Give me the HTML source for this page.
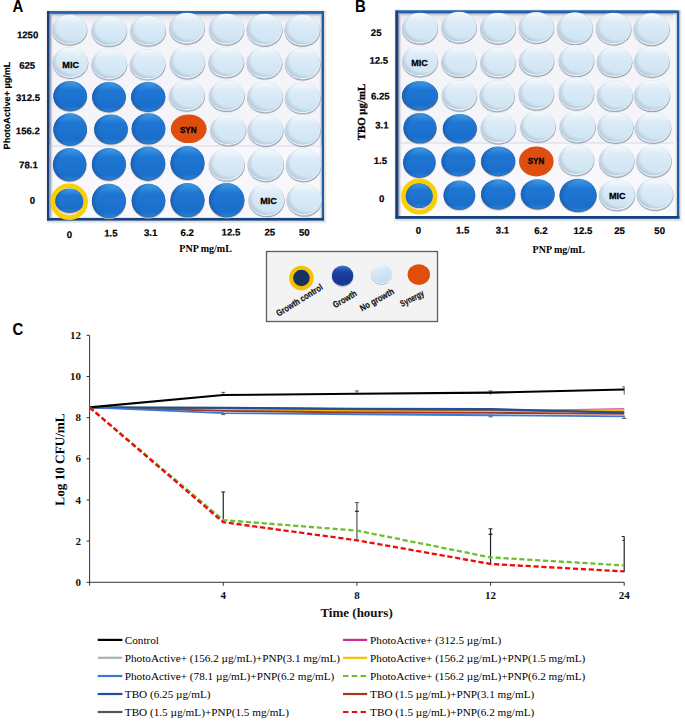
<!DOCTYPE html>
<html><head><meta charset="utf-8"><title>Figure</title>
<style>html,body{margin:0;padding:0;background:#fff;width:685px;height:722px;overflow:hidden}svg{display:block}</style>
</head><body>
<svg width="685" height="722" viewBox="0 0 685 722">
<defs>
<linearGradient id="gLight" x1="0" y1="0" x2="0" y2="1">
 <stop offset="0" stop-color="#f4fafd"/><stop offset="0.3" stop-color="#dcecf7"/><stop offset="1" stop-color="#cee3f2"/>
</linearGradient>
<radialGradient id="gBlue" cx="0.55" cy="0.45" r="0.58">
 <stop offset="0" stop-color="#1f74d0"/><stop offset="0.8" stop-color="#1c6cc8"/><stop offset="1" stop-color="#175fb6"/>
</radialGradient>
<linearGradient id="gBlueV" x1="0" y1="0" x2="0" y2="1">
 <stop offset="0" stop-color="#55b4f2"/><stop offset="0.1" stop-color="#3590e2"/><stop offset="0.3" stop-color="#1f76d2"/><stop offset="0.85" stop-color="#1b6fcc"/><stop offset="0.96" stop-color="#2580d8"/><stop offset="1" stop-color="#2f8ade"/>
</linearGradient>
<radialGradient id="gBlueEdge" cx="0.56" cy="0.52" r="0.56">
 <stop offset="0.75" stop-color="#0d4a9c" stop-opacity="0"/><stop offset="1" stop-color="#0d4a9c" stop-opacity="0.45"/>
</radialGradient>
<radialGradient id="gLightEdge" cx="0.6" cy="0.42" r="0.6">
 <stop offset="0.78" stop-color="#9db3c8" stop-opacity="0"/><stop offset="1" stop-color="#9db3c8" stop-opacity="0.5"/>
</radialGradient>
<radialGradient id="gBlueHi" cx="0.5" cy="0.2" r="0.7">
 <stop offset="0" stop-color="#4fb0f2" stop-opacity="0.7"/><stop offset="1" stop-color="#2a80d8" stop-opacity="0"/>
</radialGradient>
<linearGradient id="gPlate" x1="0" y1="0" x2="0" y2="1">
 <stop offset="0" stop-color="#c4c4cc"/><stop offset="0.015" stop-color="#e8e8f0"/><stop offset="0.05" stop-color="#f4f3f8"/><stop offset="1" stop-color="#f6f5fa"/>
</linearGradient>
<linearGradient id="gFrameTop" x1="0" y1="0" x2="0" y2="1">
 <stop offset="0" stop-color="#2a6fbd"/><stop offset="1" stop-color="#1a55a0"/>
</linearGradient>
<linearGradient id="gInL" x1="0" y1="0" x2="1" y2="0">
 <stop offset="0" stop-color="#5a6a88" stop-opacity="0.95"/><stop offset="0.45" stop-color="#a8aec0" stop-opacity="0.6"/><stop offset="1" stop-color="#f0f0f6" stop-opacity="0"/>
</linearGradient>
<linearGradient id="gInR" x1="1" y1="0" x2="0" y2="0">
 <stop offset="0" stop-color="#9aa0b0" stop-opacity="0.5"/><stop offset="1" stop-color="#f0f0f6" stop-opacity="0"/>
</linearGradient>
<linearGradient id="gInT" x1="0" y1="0" x2="0" y2="1">
 <stop offset="0" stop-color="#8890a0" stop-opacity="0.8"/><stop offset="1" stop-color="#e8e8f0" stop-opacity="0"/>
</linearGradient>
<linearGradient id="gLgBlue" x1="0" y1="0" x2="0" y2="1">
 <stop offset="0" stop-color="#5080d8"/><stop offset="0.12" stop-color="#2f5cbd"/><stop offset="0.35" stop-color="#1a40a0"/><stop offset="0.8" stop-color="#153591"/><stop offset="1" stop-color="#1c44a6"/>
</linearGradient>
<linearGradient id="gLgLight" x1="0.2" y1="0" x2="0.6" y2="1">
 <stop offset="0" stop-color="#f4fafd"/><stop offset="0.3" stop-color="#d8eaf6"/><stop offset="1" stop-color="#c2dbee"/>
</linearGradient>
</defs>
<rect width="685" height="722" fill="#fff"/>
<text transform="translate(12.4,11.7) scale(1,1.12)" font-family='"Liberation Sans", sans-serif' font-weight="bold" font-size="15" fill="#000">A</text>
<text transform="translate(355.1,11.9) scale(1,1.06)" font-family='"Liberation Sans", sans-serif' font-weight="bold" font-size="15" fill="#000">B</text>
<text transform="translate(12.5,334.6) scale(1,1.12)" font-family='"Liberation Sans", sans-serif' font-weight="bold" font-size="15" fill="#000">C</text>
<rect x="45.5" y="9.5" width="281" height="213.9" fill="#f2f2f2"/>
<rect x="47" y="11" width="278.5" height="211.4" fill="#dedede"/>
<rect x="47" y="11" width="277" height="209.4" fill="#1f5ca8"/>
<rect x="47" y="11" width="2.6" height="209.4" fill="#163f7c"/>
<rect x="47" y="217.6" width="277" height="2.8" fill="#16427f"/>
<rect x="49.5" y="11" width="272" height="2.8" fill="url(#gFrameTop)"/>
<rect x="49.5" y="13.8" width="272" height="203.9" fill="url(#gPlate)"/>
<rect x="49.5" y="146.5" width="272" height="71.20000000000002" fill="#f8f7fb"/>
<rect x="49.5" y="145.0" width="272" height="2" fill="#e8e7ef"/>
<rect x="49.5" y="13.8" width="4" height="203.9" fill="url(#gInL)"/>
<rect x="318.5" y="13.8" width="3" height="203.9" fill="url(#gInR)"/>
<rect x="49.5" y="13.8" width="272" height="2.5" fill="url(#gInT)"/>
<ellipse cx="69.5" cy="31.099999999999998" rx="18.0" ry="15.4" fill="#dcdce4" opacity="0.7"/>
<ellipse cx="69.7" cy="30.7" rx="17.599999999999998" ry="15.0" fill="#8f9cac"/>
<ellipse cx="69.5" cy="29.9" rx="17.4" ry="14.8" fill="#eef6fb" stroke="#b4c0cc" stroke-width="0.5"/>
<ellipse cx="69.5" cy="29.099999999999998" rx="17.099999999999998" ry="14.200000000000001" fill="url(#gLight)"/>
<ellipse cx="69.5" cy="29.099999999999998" rx="17.099999999999998" ry="14.200000000000001" fill="url(#gLightEdge)"/>
<ellipse cx="109.2" cy="32.300000000000004" rx="18.200000000000003" ry="15.6" fill="#dcdce4" opacity="0.7"/>
<ellipse cx="109.4" cy="31.900000000000002" rx="17.8" ry="15.2" fill="#8f9cac"/>
<ellipse cx="109.2" cy="31.1" rx="17.6" ry="15" fill="#eef6fb" stroke="#b4c0cc" stroke-width="0.5"/>
<ellipse cx="109.2" cy="30.3" rx="17.3" ry="14.4" fill="url(#gLight)"/>
<ellipse cx="109.2" cy="30.3" rx="17.3" ry="14.4" fill="url(#gLightEdge)"/>
<ellipse cx="148" cy="32.1" rx="18.200000000000003" ry="15.4" fill="#dcdce4" opacity="0.7"/>
<ellipse cx="148.2" cy="31.7" rx="17.8" ry="15.0" fill="#8f9cac"/>
<ellipse cx="148" cy="30.9" rx="17.6" ry="14.8" fill="#eef6fb" stroke="#b4c0cc" stroke-width="0.5"/>
<ellipse cx="148" cy="30.099999999999998" rx="17.3" ry="14.200000000000001" fill="url(#gLight)"/>
<ellipse cx="148" cy="30.099999999999998" rx="17.3" ry="14.200000000000001" fill="url(#gLightEdge)"/>
<ellipse cx="186.9" cy="29.599999999999998" rx="18.1" ry="15.9" fill="#dcdce4" opacity="0.7"/>
<ellipse cx="187.1" cy="29.2" rx="17.7" ry="15.5" fill="#8f9cac"/>
<ellipse cx="186.9" cy="28.4" rx="17.5" ry="15.3" fill="#eef6fb" stroke="#b4c0cc" stroke-width="0.5"/>
<ellipse cx="186.9" cy="27.599999999999998" rx="17.2" ry="14.700000000000001" fill="url(#gLight)"/>
<ellipse cx="186.9" cy="27.599999999999998" rx="17.2" ry="14.700000000000001" fill="url(#gLightEdge)"/>
<ellipse cx="226.5" cy="30.599999999999998" rx="18.0" ry="15.9" fill="#dcdce4" opacity="0.7"/>
<ellipse cx="226.7" cy="30.2" rx="17.599999999999998" ry="15.5" fill="#8f9cac"/>
<ellipse cx="226.5" cy="29.4" rx="17.4" ry="15.3" fill="#eef6fb" stroke="#b4c0cc" stroke-width="0.5"/>
<ellipse cx="226.5" cy="28.599999999999998" rx="17.099999999999998" ry="14.700000000000001" fill="url(#gLight)"/>
<ellipse cx="226.5" cy="28.599999999999998" rx="17.099999999999998" ry="14.700000000000001" fill="url(#gLightEdge)"/>
<ellipse cx="264.4" cy="31.099999999999998" rx="18.3" ry="16.400000000000002" fill="#dcdce4" opacity="0.7"/>
<ellipse cx="264.59999999999997" cy="30.7" rx="17.9" ry="16.0" fill="#8f9cac"/>
<ellipse cx="264.4" cy="29.9" rx="17.7" ry="15.8" fill="#eef6fb" stroke="#b4c0cc" stroke-width="0.5"/>
<ellipse cx="264.4" cy="29.099999999999998" rx="17.4" ry="15.200000000000001" fill="url(#gLight)"/>
<ellipse cx="264.4" cy="29.099999999999998" rx="17.4" ry="15.200000000000001" fill="url(#gLightEdge)"/>
<ellipse cx="302.3" cy="31.599999999999998" rx="18.200000000000003" ry="15.9" fill="#dcdce4" opacity="0.7"/>
<ellipse cx="302.5" cy="31.2" rx="17.8" ry="15.5" fill="#8f9cac"/>
<ellipse cx="302.3" cy="30.4" rx="17.6" ry="15.3" fill="#eef6fb" stroke="#b4c0cc" stroke-width="0.5"/>
<ellipse cx="302.3" cy="29.599999999999998" rx="17.3" ry="14.700000000000001" fill="url(#gLight)"/>
<ellipse cx="302.3" cy="29.599999999999998" rx="17.3" ry="14.700000000000001" fill="url(#gLightEdge)"/>
<ellipse cx="70.3" cy="64.1" rx="18.200000000000003" ry="15.7" fill="#dcdce4" opacity="0.7"/>
<ellipse cx="70.5" cy="63.699999999999996" rx="17.8" ry="15.299999999999999" fill="#8f9cac"/>
<ellipse cx="70.3" cy="62.9" rx="17.6" ry="15.1" fill="#eef6fb" stroke="#b4c0cc" stroke-width="0.5"/>
<ellipse cx="70.3" cy="62.1" rx="17.3" ry="14.5" fill="url(#gLight)"/>
<ellipse cx="70.3" cy="62.1" rx="17.3" ry="14.5" fill="url(#gLightEdge)"/>
<text x="70.65" y="67.7" text-anchor="middle" textLength="16.7" lengthAdjust="spacingAndGlyphs" font-family='"Liberation Sans", sans-serif' font-weight="bold" font-size="9.7" fill="#000" stroke="#000" stroke-width="0.3">MIC</text>
<ellipse cx="109.2" cy="65.7" rx="18.200000000000003" ry="15.6" fill="#dcdce4" opacity="0.7"/>
<ellipse cx="109.4" cy="65.3" rx="17.8" ry="15.2" fill="#8f9cac"/>
<ellipse cx="109.2" cy="64.5" rx="17.6" ry="15" fill="#eef6fb" stroke="#b4c0cc" stroke-width="0.5"/>
<ellipse cx="109.2" cy="63.7" rx="17.3" ry="14.4" fill="url(#gLight)"/>
<ellipse cx="109.2" cy="63.7" rx="17.3" ry="14.4" fill="url(#gLightEdge)"/>
<ellipse cx="147.5" cy="65.8" rx="18.200000000000003" ry="15.5" fill="#dcdce4" opacity="0.7"/>
<ellipse cx="147.7" cy="65.39999999999999" rx="17.8" ry="15.1" fill="#8f9cac"/>
<ellipse cx="147.5" cy="64.6" rx="17.6" ry="14.9" fill="#eef6fb" stroke="#b4c0cc" stroke-width="0.5"/>
<ellipse cx="147.5" cy="63.8" rx="17.3" ry="14.3" fill="url(#gLight)"/>
<ellipse cx="147.5" cy="63.8" rx="17.3" ry="14.3" fill="url(#gLightEdge)"/>
<ellipse cx="187.3" cy="63.800000000000004" rx="18.0" ry="16.400000000000002" fill="#dcdce4" opacity="0.7"/>
<ellipse cx="187.5" cy="63.4" rx="17.599999999999998" ry="16.0" fill="#8f9cac"/>
<ellipse cx="187.3" cy="62.6" rx="17.4" ry="15.8" fill="#eef6fb" stroke="#b4c0cc" stroke-width="0.5"/>
<ellipse cx="187.3" cy="61.800000000000004" rx="17.099999999999998" ry="15.200000000000001" fill="url(#gLight)"/>
<ellipse cx="187.3" cy="61.800000000000004" rx="17.099999999999998" ry="15.200000000000001" fill="url(#gLightEdge)"/>
<ellipse cx="226.2" cy="63.800000000000004" rx="18.200000000000003" ry="15.4" fill="#dcdce4" opacity="0.7"/>
<ellipse cx="226.39999999999998" cy="63.4" rx="17.8" ry="15.0" fill="#8f9cac"/>
<ellipse cx="226.2" cy="62.6" rx="17.6" ry="14.8" fill="#eef6fb" stroke="#b4c0cc" stroke-width="0.5"/>
<ellipse cx="226.2" cy="61.800000000000004" rx="17.3" ry="14.200000000000001" fill="url(#gLight)"/>
<ellipse cx="226.2" cy="61.800000000000004" rx="17.3" ry="14.200000000000001" fill="url(#gLightEdge)"/>
<ellipse cx="264.4" cy="64.3" rx="18.200000000000003" ry="15.9" fill="#dcdce4" opacity="0.7"/>
<ellipse cx="264.59999999999997" cy="63.9" rx="17.8" ry="15.5" fill="#8f9cac"/>
<ellipse cx="264.4" cy="63.1" rx="17.6" ry="15.3" fill="#eef6fb" stroke="#b4c0cc" stroke-width="0.5"/>
<ellipse cx="264.4" cy="62.300000000000004" rx="17.3" ry="14.700000000000001" fill="url(#gLight)"/>
<ellipse cx="264.4" cy="62.300000000000004" rx="17.3" ry="14.700000000000001" fill="url(#gLightEdge)"/>
<ellipse cx="302.7" cy="65.3" rx="18.200000000000003" ry="15.9" fill="#dcdce4" opacity="0.7"/>
<ellipse cx="302.9" cy="64.89999999999999" rx="17.8" ry="15.5" fill="#8f9cac"/>
<ellipse cx="302.7" cy="64.1" rx="17.6" ry="15.3" fill="#eef6fb" stroke="#b4c0cc" stroke-width="0.5"/>
<ellipse cx="302.7" cy="63.3" rx="17.3" ry="14.700000000000001" fill="url(#gLight)"/>
<ellipse cx="302.7" cy="63.3" rx="17.3" ry="14.700000000000001" fill="url(#gLightEdge)"/>
<ellipse cx="70.2" cy="97.10000000000001" rx="17.2" ry="15.3" fill="#c8c8d0" opacity="0.8"/>
<ellipse cx="70.2" cy="96.5" rx="16.8" ry="14.9" fill="#5a6270"/>
<ellipse cx="70.2" cy="95.9" rx="16.7" ry="14.8" fill="url(#gBlueV)"/>
<ellipse cx="70.2" cy="95.9" rx="16.7" ry="14.8" fill="url(#gBlueEdge)"/>
<ellipse cx="109" cy="98.10000000000001" rx="17.2" ry="15.3" fill="#c8c8d0" opacity="0.8"/>
<ellipse cx="109" cy="97.5" rx="16.8" ry="14.9" fill="#5a6270"/>
<ellipse cx="109" cy="96.9" rx="16.7" ry="14.8" fill="url(#gBlueV)"/>
<ellipse cx="109" cy="96.9" rx="16.7" ry="14.8" fill="url(#gBlueEdge)"/>
<ellipse cx="148.2" cy="97.9" rx="17.5" ry="15.1" fill="#c8c8d0" opacity="0.8"/>
<ellipse cx="148.2" cy="97.3" rx="17.1" ry="14.7" fill="#5a6270"/>
<ellipse cx="148.2" cy="96.7" rx="17" ry="14.6" fill="url(#gBlueV)"/>
<ellipse cx="148.2" cy="96.7" rx="17" ry="14.6" fill="url(#gBlueEdge)"/>
<ellipse cx="186.8" cy="97.10000000000001" rx="18.200000000000003" ry="15.4" fill="#dcdce4" opacity="0.7"/>
<ellipse cx="187.0" cy="96.7" rx="17.8" ry="15.0" fill="#8f9cac"/>
<ellipse cx="186.8" cy="95.9" rx="17.6" ry="14.8" fill="#eef6fb" stroke="#b4c0cc" stroke-width="0.5"/>
<ellipse cx="186.8" cy="95.10000000000001" rx="17.3" ry="14.200000000000001" fill="url(#gLight)"/>
<ellipse cx="186.8" cy="95.10000000000001" rx="17.3" ry="14.200000000000001" fill="url(#gLightEdge)"/>
<ellipse cx="226.7" cy="97.3" rx="18.200000000000003" ry="15.6" fill="#dcdce4" opacity="0.7"/>
<ellipse cx="226.89999999999998" cy="96.89999999999999" rx="17.8" ry="15.2" fill="#8f9cac"/>
<ellipse cx="226.7" cy="96.1" rx="17.6" ry="15" fill="#eef6fb" stroke="#b4c0cc" stroke-width="0.5"/>
<ellipse cx="226.7" cy="95.3" rx="17.3" ry="14.4" fill="url(#gLight)"/>
<ellipse cx="226.7" cy="95.3" rx="17.3" ry="14.4" fill="url(#gLightEdge)"/>
<ellipse cx="265" cy="98.4" rx="18.3" ry="15.7" fill="#dcdce4" opacity="0.7"/>
<ellipse cx="265.2" cy="98.0" rx="17.9" ry="15.299999999999999" fill="#8f9cac"/>
<ellipse cx="265" cy="97.2" rx="17.7" ry="15.1" fill="#eef6fb" stroke="#b4c0cc" stroke-width="0.5"/>
<ellipse cx="265" cy="96.4" rx="17.4" ry="14.5" fill="url(#gLight)"/>
<ellipse cx="265" cy="96.4" rx="17.4" ry="14.5" fill="url(#gLightEdge)"/>
<ellipse cx="302.7" cy="99.4" rx="18.200000000000003" ry="15.7" fill="#dcdce4" opacity="0.7"/>
<ellipse cx="302.9" cy="99.0" rx="17.8" ry="15.299999999999999" fill="#8f9cac"/>
<ellipse cx="302.7" cy="98.2" rx="17.6" ry="15.1" fill="#eef6fb" stroke="#b4c0cc" stroke-width="0.5"/>
<ellipse cx="302.7" cy="97.4" rx="17.3" ry="14.5" fill="url(#gLight)"/>
<ellipse cx="302.7" cy="97.4" rx="17.3" ry="14.5" fill="url(#gLightEdge)"/>
<ellipse cx="70.2" cy="130.5" rx="17.2" ry="16.6" fill="#c8c8d0" opacity="0.8"/>
<ellipse cx="70.2" cy="129.9" rx="16.8" ry="16.200000000000003" fill="#5a6270"/>
<ellipse cx="70.2" cy="129.3" rx="16.7" ry="16.1" fill="url(#gBlueV)"/>
<ellipse cx="70.2" cy="129.3" rx="16.7" ry="16.1" fill="url(#gBlueEdge)"/>
<ellipse cx="111" cy="130.29999999999998" rx="17.2" ry="15.2" fill="#c8c8d0" opacity="0.8"/>
<ellipse cx="111" cy="129.7" rx="16.8" ry="14.799999999999999" fill="#5a6270"/>
<ellipse cx="111" cy="129.1" rx="16.7" ry="14.7" fill="url(#gBlueV)"/>
<ellipse cx="111" cy="129.1" rx="16.7" ry="14.7" fill="url(#gBlueEdge)"/>
<ellipse cx="148.5" cy="129.7" rx="17.2" ry="15.8" fill="#c8c8d0" opacity="0.8"/>
<ellipse cx="148.5" cy="129.1" rx="16.8" ry="15.4" fill="#5a6270"/>
<ellipse cx="148.5" cy="128.5" rx="16.7" ry="15.3" fill="url(#gBlueV)"/>
<ellipse cx="148.5" cy="128.5" rx="16.7" ry="15.3" fill="url(#gBlueEdge)"/>
<ellipse cx="188.7" cy="128.8" rx="17.9" ry="14.3" fill="#dd4e0f"/>
<text x="188.25" y="132.64999999999998" text-anchor="middle" textLength="16.5" lengthAdjust="spacingAndGlyphs" font-family='"Liberation Sans", sans-serif' font-weight="bold" font-size="9.7" fill="#000" stroke="#000" stroke-width="0.3">SYN</text>
<ellipse cx="228.2" cy="131.29999999999998" rx="18.3" ry="15.9" fill="#dcdce4" opacity="0.7"/>
<ellipse cx="228.39999999999998" cy="130.9" rx="17.9" ry="15.5" fill="#8f9cac"/>
<ellipse cx="228.2" cy="130.1" rx="17.7" ry="15.3" fill="#eef6fb" stroke="#b4c0cc" stroke-width="0.5"/>
<ellipse cx="228.2" cy="129.29999999999998" rx="17.4" ry="14.700000000000001" fill="url(#gLight)"/>
<ellipse cx="228.2" cy="129.29999999999998" rx="17.4" ry="14.700000000000001" fill="url(#gLightEdge)"/>
<ellipse cx="265.5" cy="131.6" rx="18.200000000000003" ry="16.1" fill="#dcdce4" opacity="0.7"/>
<ellipse cx="265.7" cy="131.20000000000002" rx="17.8" ry="15.7" fill="#8f9cac"/>
<ellipse cx="265.5" cy="130.4" rx="17.6" ry="15.5" fill="#eef6fb" stroke="#b4c0cc" stroke-width="0.5"/>
<ellipse cx="265.5" cy="129.6" rx="17.3" ry="14.9" fill="url(#gLight)"/>
<ellipse cx="265.5" cy="129.6" rx="17.3" ry="14.9" fill="url(#gLightEdge)"/>
<ellipse cx="302.7" cy="131.79999999999998" rx="18.200000000000003" ry="15.9" fill="#dcdce4" opacity="0.7"/>
<ellipse cx="302.9" cy="131.4" rx="17.8" ry="15.5" fill="#8f9cac"/>
<ellipse cx="302.7" cy="130.6" rx="17.6" ry="15.3" fill="#eef6fb" stroke="#b4c0cc" stroke-width="0.5"/>
<ellipse cx="302.7" cy="129.79999999999998" rx="17.3" ry="14.700000000000001" fill="url(#gLight)"/>
<ellipse cx="302.7" cy="129.79999999999998" rx="17.3" ry="14.700000000000001" fill="url(#gLightEdge)"/>
<ellipse cx="69.7" cy="165.6" rx="17.1" ry="16.9" fill="#c8c8d0" opacity="0.8"/>
<ellipse cx="69.7" cy="165.0" rx="16.700000000000003" ry="16.5" fill="#5a6270"/>
<ellipse cx="69.7" cy="164.4" rx="16.6" ry="16.4" fill="url(#gBlueV)"/>
<ellipse cx="69.7" cy="164.4" rx="16.6" ry="16.4" fill="url(#gBlueEdge)"/>
<ellipse cx="108.9" cy="165.29999999999998" rx="17.4" ry="16.5" fill="#c8c8d0" opacity="0.8"/>
<ellipse cx="108.9" cy="164.7" rx="17.0" ry="16.1" fill="#5a6270"/>
<ellipse cx="108.9" cy="164.1" rx="16.9" ry="16" fill="url(#gBlueV)"/>
<ellipse cx="108.9" cy="164.1" rx="16.9" ry="16" fill="url(#gBlueEdge)"/>
<ellipse cx="148" cy="164.6" rx="17.7" ry="17.3" fill="#c8c8d0" opacity="0.8"/>
<ellipse cx="148" cy="164.0" rx="17.3" ry="16.900000000000002" fill="#5a6270"/>
<ellipse cx="148" cy="163.4" rx="17.2" ry="16.8" fill="url(#gBlueV)"/>
<ellipse cx="148" cy="163.4" rx="17.2" ry="16.8" fill="url(#gBlueEdge)"/>
<ellipse cx="187.5" cy="163.89999999999998" rx="17.4" ry="17.1" fill="#c8c8d0" opacity="0.8"/>
<ellipse cx="187.5" cy="163.29999999999998" rx="17.0" ry="16.700000000000003" fill="#5a6270"/>
<ellipse cx="187.5" cy="162.7" rx="16.9" ry="16.6" fill="url(#gBlueV)"/>
<ellipse cx="187.5" cy="162.7" rx="16.9" ry="16.6" fill="url(#gBlueEdge)"/>
<ellipse cx="226.7" cy="166.2" rx="18.200000000000003" ry="16.400000000000002" fill="#dcdce4" opacity="0.7"/>
<ellipse cx="226.89999999999998" cy="165.8" rx="17.8" ry="16.0" fill="#8f9cac"/>
<ellipse cx="226.7" cy="165" rx="17.6" ry="15.8" fill="#eef6fb" stroke="#b4c0cc" stroke-width="0.5"/>
<ellipse cx="226.7" cy="164.2" rx="17.3" ry="15.200000000000001" fill="url(#gLight)"/>
<ellipse cx="226.7" cy="164.2" rx="17.3" ry="15.200000000000001" fill="url(#gLightEdge)"/>
<ellipse cx="265.7" cy="166.2" rx="18.400000000000002" ry="16.900000000000002" fill="#dcdce4" opacity="0.7"/>
<ellipse cx="265.9" cy="165.8" rx="18.0" ry="16.5" fill="#8f9cac"/>
<ellipse cx="265.7" cy="165" rx="17.8" ry="16.3" fill="#eef6fb" stroke="#b4c0cc" stroke-width="0.5"/>
<ellipse cx="265.7" cy="164.2" rx="17.5" ry="15.700000000000001" fill="url(#gLight)"/>
<ellipse cx="265.7" cy="164.2" rx="17.5" ry="15.700000000000001" fill="url(#gLightEdge)"/>
<ellipse cx="303.6" cy="166.2" rx="18.0" ry="16.900000000000002" fill="#dcdce4" opacity="0.7"/>
<ellipse cx="303.8" cy="165.8" rx="17.599999999999998" ry="16.5" fill="#8f9cac"/>
<ellipse cx="303.6" cy="165" rx="17.4" ry="16.3" fill="#eef6fb" stroke="#b4c0cc" stroke-width="0.5"/>
<ellipse cx="303.6" cy="164.2" rx="17.099999999999998" ry="15.700000000000001" fill="url(#gLight)"/>
<ellipse cx="303.6" cy="164.2" rx="17.099999999999998" ry="15.700000000000001" fill="url(#gLightEdge)"/>
<ellipse cx="69.2" cy="201.7" rx="15.7" ry="15.3" fill="#e4e4ec"/>
<ellipse cx="69.7" cy="201.6" rx="15.1" ry="12.3" fill="#c8c8d0" opacity="0.8"/>
<ellipse cx="69.7" cy="201.0" rx="14.7" ry="11.9" fill="#5a6270"/>
<ellipse cx="69.7" cy="200.4" rx="14.6" ry="11.8" fill="url(#gBlueV)"/>
<ellipse cx="69.7" cy="200.4" rx="14.6" ry="11.8" fill="url(#gBlueEdge)"/>
<ellipse cx="69.2" cy="201.7" rx="16.4" ry="16.0" fill="none" stroke="#f8d000" stroke-width="4.6"/>
<ellipse cx="108.9" cy="201.89999999999998" rx="17.4" ry="17.4" fill="#c8c8d0" opacity="0.8"/>
<ellipse cx="108.9" cy="201.29999999999998" rx="17.0" ry="17.0" fill="#5a6270"/>
<ellipse cx="108.9" cy="200.7" rx="16.9" ry="16.9" fill="url(#gBlueV)"/>
<ellipse cx="108.9" cy="200.7" rx="16.9" ry="16.9" fill="url(#gBlueEdge)"/>
<ellipse cx="148.5" cy="201.6" rx="17.2" ry="17.1" fill="#c8c8d0" opacity="0.8"/>
<ellipse cx="148.5" cy="201.0" rx="16.8" ry="16.700000000000003" fill="#5a6270"/>
<ellipse cx="148.5" cy="200.4" rx="16.7" ry="16.6" fill="url(#gBlueV)"/>
<ellipse cx="148.5" cy="200.4" rx="16.7" ry="16.6" fill="url(#gBlueEdge)"/>
<ellipse cx="187.5" cy="201.1" rx="17.4" ry="17.5" fill="#c8c8d0" opacity="0.8"/>
<ellipse cx="187.5" cy="200.5" rx="17.0" ry="17.1" fill="#5a6270"/>
<ellipse cx="187.5" cy="199.9" rx="16.9" ry="17" fill="url(#gBlueV)"/>
<ellipse cx="187.5" cy="199.9" rx="16.9" ry="17" fill="url(#gBlueEdge)"/>
<ellipse cx="226.7" cy="201.1" rx="18.1" ry="17.5" fill="#c8c8d0" opacity="0.8"/>
<ellipse cx="226.7" cy="200.5" rx="17.700000000000003" ry="17.1" fill="#5a6270"/>
<ellipse cx="226.7" cy="199.9" rx="17.6" ry="17" fill="url(#gBlueV)"/>
<ellipse cx="226.7" cy="199.9" rx="17.6" ry="17" fill="url(#gBlueEdge)"/>
<ellipse cx="266.5" cy="201.39999999999998" rx="18.3" ry="16.6" fill="#dcdce4" opacity="0.7"/>
<ellipse cx="266.7" cy="201.0" rx="17.9" ry="16.2" fill="#8f9cac"/>
<ellipse cx="266.5" cy="200.2" rx="17.7" ry="16" fill="#eef6fb" stroke="#b4c0cc" stroke-width="0.5"/>
<ellipse cx="266.5" cy="199.39999999999998" rx="17.4" ry="15.4" fill="url(#gLight)"/>
<ellipse cx="266.5" cy="199.39999999999998" rx="17.4" ry="15.4" fill="url(#gLightEdge)"/>
<text x="268.6" y="203.89999999999998" text-anchor="middle" textLength="16.7" lengthAdjust="spacingAndGlyphs" font-family='"Liberation Sans", sans-serif' font-weight="bold" font-size="9.7" fill="#000" stroke="#000" stroke-width="0.3">MIC</text>
<ellipse cx="304.2" cy="201.1" rx="18.0" ry="16.3" fill="#dcdce4" opacity="0.7"/>
<ellipse cx="304.4" cy="200.70000000000002" rx="17.599999999999998" ry="15.899999999999999" fill="#8f9cac"/>
<ellipse cx="304.2" cy="199.9" rx="17.4" ry="15.7" fill="#eef6fb" stroke="#b4c0cc" stroke-width="0.5"/>
<ellipse cx="304.2" cy="199.1" rx="17.099999999999998" ry="15.1" fill="url(#gLight)"/>
<ellipse cx="304.2" cy="199.1" rx="17.099999999999998" ry="15.1" fill="url(#gLightEdge)"/>
<rect x="394.0" y="9.0" width="287.79999999999995" height="212.6" fill="#f2f2f2"/>
<rect x="395.5" y="10.5" width="285.29999999999995" height="210.1" fill="#dedede"/>
<rect x="395.5" y="10.5" width="283.79999999999995" height="208.1" fill="#1f5ca8"/>
<rect x="395.5" y="10.5" width="2.6" height="208.1" fill="#163f7c"/>
<rect x="395.5" y="215.79999999999998" width="283.79999999999995" height="2.8" fill="#16427f"/>
<rect x="398.0" y="10.5" width="278.79999999999995" height="2.8" fill="url(#gFrameTop)"/>
<rect x="398.0" y="13.3" width="278.79999999999995" height="202.6" fill="url(#gPlate)"/>
<rect x="398.0" y="143.5" width="278.79999999999995" height="72.4" fill="#f8f7fb"/>
<rect x="398.0" y="142.0" width="278.79999999999995" height="2" fill="#e8e7ef"/>
<rect x="398.0" y="211.0" width="278.79999999999995" height="4.9" fill="#fdfdfe"/>
<rect x="673.5" y="13.3" width="3.2" height="202.6" fill="#fbfbfd"/>
<rect x="398.0" y="13.3" width="4" height="202.6" fill="url(#gInL)"/>
<rect x="673.8" y="13.3" width="3" height="202.6" fill="url(#gInR)"/>
<rect x="398.0" y="13.3" width="278.79999999999995" height="2.5" fill="url(#gInT)"/>
<ellipse cx="419.9" cy="29.599999999999998" rx="18.3" ry="15.9" fill="#dcdce4" opacity="0.7"/>
<ellipse cx="420.09999999999997" cy="29.2" rx="17.9" ry="15.5" fill="#8f9cac"/>
<ellipse cx="419.9" cy="28.4" rx="17.7" ry="15.3" fill="#eef6fb" stroke="#b4c0cc" stroke-width="0.5"/>
<ellipse cx="419.9" cy="27.599999999999998" rx="17.4" ry="14.700000000000001" fill="url(#gLight)"/>
<ellipse cx="419.9" cy="27.599999999999998" rx="17.4" ry="14.700000000000001" fill="url(#gLightEdge)"/>
<ellipse cx="459" cy="28.599999999999998" rx="18.0" ry="15.9" fill="#dcdce4" opacity="0.7"/>
<ellipse cx="459.2" cy="28.2" rx="17.599999999999998" ry="15.5" fill="#8f9cac"/>
<ellipse cx="459" cy="27.4" rx="17.4" ry="15.3" fill="#eef6fb" stroke="#b4c0cc" stroke-width="0.5"/>
<ellipse cx="459" cy="26.599999999999998" rx="17.099999999999998" ry="14.700000000000001" fill="url(#gLight)"/>
<ellipse cx="459" cy="26.599999999999998" rx="17.099999999999998" ry="14.700000000000001" fill="url(#gLightEdge)"/>
<ellipse cx="498" cy="29.599999999999998" rx="18.200000000000003" ry="15.9" fill="#dcdce4" opacity="0.7"/>
<ellipse cx="498.2" cy="29.2" rx="17.8" ry="15.5" fill="#8f9cac"/>
<ellipse cx="498" cy="28.4" rx="17.6" ry="15.3" fill="#eef6fb" stroke="#b4c0cc" stroke-width="0.5"/>
<ellipse cx="498" cy="27.599999999999998" rx="17.3" ry="14.700000000000001" fill="url(#gLight)"/>
<ellipse cx="498" cy="27.599999999999998" rx="17.3" ry="14.700000000000001" fill="url(#gLightEdge)"/>
<ellipse cx="536.3" cy="28.9" rx="18.1" ry="15.9" fill="#dcdce4" opacity="0.7"/>
<ellipse cx="536.5" cy="28.5" rx="17.7" ry="15.5" fill="#8f9cac"/>
<ellipse cx="536.3" cy="27.7" rx="17.5" ry="15.3" fill="#eef6fb" stroke="#b4c0cc" stroke-width="0.5"/>
<ellipse cx="536.3" cy="26.9" rx="17.2" ry="14.700000000000001" fill="url(#gLight)"/>
<ellipse cx="536.3" cy="26.9" rx="17.2" ry="14.700000000000001" fill="url(#gLightEdge)"/>
<ellipse cx="574.9" cy="29.7" rx="18.3" ry="16.3" fill="#dcdce4" opacity="0.7"/>
<ellipse cx="575.1" cy="29.3" rx="17.9" ry="15.899999999999999" fill="#8f9cac"/>
<ellipse cx="574.9" cy="28.5" rx="17.7" ry="15.7" fill="#eef6fb" stroke="#b4c0cc" stroke-width="0.5"/>
<ellipse cx="574.9" cy="27.7" rx="17.4" ry="15.1" fill="url(#gLight)"/>
<ellipse cx="574.9" cy="27.7" rx="17.4" ry="15.1" fill="url(#gLightEdge)"/>
<ellipse cx="613.6" cy="30.0" rx="18.1" ry="16.3" fill="#dcdce4" opacity="0.7"/>
<ellipse cx="613.8000000000001" cy="29.6" rx="17.7" ry="15.899999999999999" fill="#8f9cac"/>
<ellipse cx="613.6" cy="28.8" rx="17.5" ry="15.7" fill="#eef6fb" stroke="#b4c0cc" stroke-width="0.5"/>
<ellipse cx="613.6" cy="28.0" rx="17.2" ry="15.1" fill="url(#gLight)"/>
<ellipse cx="613.6" cy="28.0" rx="17.2" ry="15.1" fill="url(#gLightEdge)"/>
<ellipse cx="651.5" cy="30.599999999999998" rx="18.3" ry="16.400000000000002" fill="#dcdce4" opacity="0.7"/>
<ellipse cx="651.7" cy="30.2" rx="17.9" ry="16.0" fill="#8f9cac"/>
<ellipse cx="651.5" cy="29.4" rx="17.7" ry="15.8" fill="#eef6fb" stroke="#b4c0cc" stroke-width="0.5"/>
<ellipse cx="651.5" cy="28.599999999999998" rx="17.4" ry="15.200000000000001" fill="url(#gLight)"/>
<ellipse cx="651.5" cy="28.599999999999998" rx="17.4" ry="15.200000000000001" fill="url(#gLightEdge)"/>
<ellipse cx="419.9" cy="62.7" rx="18.3" ry="15.6" fill="#dcdce4" opacity="0.7"/>
<ellipse cx="420.09999999999997" cy="62.3" rx="17.9" ry="15.2" fill="#8f9cac"/>
<ellipse cx="419.9" cy="61.5" rx="17.7" ry="15" fill="#eef6fb" stroke="#b4c0cc" stroke-width="0.5"/>
<ellipse cx="419.9" cy="60.7" rx="17.4" ry="14.4" fill="url(#gLight)"/>
<ellipse cx="419.9" cy="60.7" rx="17.4" ry="14.4" fill="url(#gLightEdge)"/>
<text x="419.5" y="66.05" text-anchor="middle" textLength="16.7" lengthAdjust="spacingAndGlyphs" font-family='"Liberation Sans", sans-serif' font-weight="bold" font-size="9.7" fill="#000" stroke="#000" stroke-width="0.3">MIC</text>
<ellipse cx="459" cy="63.400000000000006" rx="18.0" ry="15.5" fill="#dcdce4" opacity="0.7"/>
<ellipse cx="459.2" cy="63.0" rx="17.599999999999998" ry="15.1" fill="#8f9cac"/>
<ellipse cx="459" cy="62.2" rx="17.4" ry="14.9" fill="#eef6fb" stroke="#b4c0cc" stroke-width="0.5"/>
<ellipse cx="459" cy="61.400000000000006" rx="17.099999999999998" ry="14.3" fill="url(#gLight)"/>
<ellipse cx="459" cy="61.400000000000006" rx="17.099999999999998" ry="14.3" fill="url(#gLightEdge)"/>
<ellipse cx="498" cy="63.900000000000006" rx="18.200000000000003" ry="15.5" fill="#dcdce4" opacity="0.7"/>
<ellipse cx="498.2" cy="63.5" rx="17.8" ry="15.1" fill="#8f9cac"/>
<ellipse cx="498" cy="62.7" rx="17.6" ry="14.9" fill="#eef6fb" stroke="#b4c0cc" stroke-width="0.5"/>
<ellipse cx="498" cy="61.900000000000006" rx="17.3" ry="14.3" fill="url(#gLight)"/>
<ellipse cx="498" cy="61.900000000000006" rx="17.3" ry="14.3" fill="url(#gLightEdge)"/>
<ellipse cx="536.5" cy="62.300000000000004" rx="18.1" ry="15.4" fill="#dcdce4" opacity="0.7"/>
<ellipse cx="536.7" cy="61.9" rx="17.7" ry="15.0" fill="#8f9cac"/>
<ellipse cx="536.5" cy="61.1" rx="17.5" ry="14.8" fill="#eef6fb" stroke="#b4c0cc" stroke-width="0.5"/>
<ellipse cx="536.5" cy="60.300000000000004" rx="17.2" ry="14.200000000000001" fill="url(#gLight)"/>
<ellipse cx="536.5" cy="60.300000000000004" rx="17.2" ry="14.200000000000001" fill="url(#gLightEdge)"/>
<ellipse cx="576.4" cy="62.0" rx="18.1" ry="16.1" fill="#dcdce4" opacity="0.7"/>
<ellipse cx="576.6" cy="61.599999999999994" rx="17.7" ry="15.7" fill="#8f9cac"/>
<ellipse cx="576.4" cy="60.8" rx="17.5" ry="15.5" fill="#eef6fb" stroke="#b4c0cc" stroke-width="0.5"/>
<ellipse cx="576.4" cy="60.0" rx="17.2" ry="14.9" fill="url(#gLight)"/>
<ellipse cx="576.4" cy="60.0" rx="17.2" ry="14.9" fill="url(#gLightEdge)"/>
<ellipse cx="614.5" cy="63.2" rx="18.1" ry="15.6" fill="#dcdce4" opacity="0.7"/>
<ellipse cx="614.7" cy="62.8" rx="17.7" ry="15.2" fill="#8f9cac"/>
<ellipse cx="614.5" cy="62" rx="17.5" ry="15" fill="#eef6fb" stroke="#b4c0cc" stroke-width="0.5"/>
<ellipse cx="614.5" cy="61.2" rx="17.2" ry="14.4" fill="url(#gLight)"/>
<ellipse cx="614.5" cy="61.2" rx="17.2" ry="14.4" fill="url(#gLightEdge)"/>
<ellipse cx="651.7" cy="63.2" rx="18.1" ry="15.6" fill="#dcdce4" opacity="0.7"/>
<ellipse cx="651.9000000000001" cy="62.8" rx="17.7" ry="15.2" fill="#8f9cac"/>
<ellipse cx="651.7" cy="62" rx="17.5" ry="15" fill="#eef6fb" stroke="#b4c0cc" stroke-width="0.5"/>
<ellipse cx="651.7" cy="61.2" rx="17.2" ry="14.4" fill="url(#gLight)"/>
<ellipse cx="651.7" cy="61.2" rx="17.2" ry="14.4" fill="url(#gLightEdge)"/>
<ellipse cx="420" cy="96.8" rx="18.4" ry="15.0" fill="#c8c8d0" opacity="0.8"/>
<ellipse cx="420" cy="96.19999999999999" rx="18.0" ry="14.6" fill="#5a6270"/>
<ellipse cx="420" cy="95.6" rx="17.9" ry="14.5" fill="url(#gBlueV)"/>
<ellipse cx="420" cy="95.6" rx="17.9" ry="14.5" fill="url(#gBlueEdge)"/>
<ellipse cx="459.4" cy="96.9" rx="18.0" ry="15.6" fill="#dcdce4" opacity="0.7"/>
<ellipse cx="459.59999999999997" cy="96.5" rx="17.599999999999998" ry="15.2" fill="#8f9cac"/>
<ellipse cx="459.4" cy="95.7" rx="17.4" ry="15" fill="#eef6fb" stroke="#b4c0cc" stroke-width="0.5"/>
<ellipse cx="459.4" cy="94.9" rx="17.099999999999998" ry="14.4" fill="url(#gLight)"/>
<ellipse cx="459.4" cy="94.9" rx="17.099999999999998" ry="14.4" fill="url(#gLightEdge)"/>
<ellipse cx="497.2" cy="97.2" rx="18.0" ry="15.9" fill="#dcdce4" opacity="0.7"/>
<ellipse cx="497.4" cy="96.8" rx="17.599999999999998" ry="15.5" fill="#8f9cac"/>
<ellipse cx="497.2" cy="96" rx="17.4" ry="15.3" fill="#eef6fb" stroke="#b4c0cc" stroke-width="0.5"/>
<ellipse cx="497.2" cy="95.2" rx="17.099999999999998" ry="14.700000000000001" fill="url(#gLight)"/>
<ellipse cx="497.2" cy="95.2" rx="17.099999999999998" ry="14.700000000000001" fill="url(#gLightEdge)"/>
<ellipse cx="536.3" cy="95.2" rx="18.1" ry="16.2" fill="#dcdce4" opacity="0.7"/>
<ellipse cx="536.5" cy="94.8" rx="17.7" ry="15.799999999999999" fill="#8f9cac"/>
<ellipse cx="536.3" cy="94" rx="17.5" ry="15.6" fill="#eef6fb" stroke="#b4c0cc" stroke-width="0.5"/>
<ellipse cx="536.3" cy="93.2" rx="17.2" ry="15.0" fill="url(#gLight)"/>
<ellipse cx="536.3" cy="93.2" rx="17.2" ry="15.0" fill="url(#gLightEdge)"/>
<ellipse cx="576.4" cy="94.8" rx="18.1" ry="16.6" fill="#dcdce4" opacity="0.7"/>
<ellipse cx="576.6" cy="94.39999999999999" rx="17.7" ry="16.2" fill="#8f9cac"/>
<ellipse cx="576.4" cy="93.6" rx="17.5" ry="16" fill="#eef6fb" stroke="#b4c0cc" stroke-width="0.5"/>
<ellipse cx="576.4" cy="92.8" rx="17.2" ry="15.4" fill="url(#gLight)"/>
<ellipse cx="576.4" cy="92.8" rx="17.2" ry="15.4" fill="url(#gLightEdge)"/>
<ellipse cx="614.8" cy="97.3" rx="18.400000000000002" ry="15.6" fill="#dcdce4" opacity="0.7"/>
<ellipse cx="615.0" cy="96.89999999999999" rx="18.0" ry="15.2" fill="#8f9cac"/>
<ellipse cx="614.8" cy="96.1" rx="17.8" ry="15" fill="#eef6fb" stroke="#b4c0cc" stroke-width="0.5"/>
<ellipse cx="614.8" cy="95.3" rx="17.5" ry="14.4" fill="url(#gLight)"/>
<ellipse cx="614.8" cy="95.3" rx="17.5" ry="14.4" fill="url(#gLightEdge)"/>
<ellipse cx="652" cy="97.0" rx="18.400000000000002" ry="15.9" fill="#dcdce4" opacity="0.7"/>
<ellipse cx="652.2" cy="96.6" rx="18.0" ry="15.5" fill="#8f9cac"/>
<ellipse cx="652" cy="95.8" rx="17.8" ry="15.3" fill="#eef6fb" stroke="#b4c0cc" stroke-width="0.5"/>
<ellipse cx="652" cy="95.0" rx="17.5" ry="14.700000000000001" fill="url(#gLight)"/>
<ellipse cx="652" cy="95.0" rx="17.5" ry="14.700000000000001" fill="url(#gLightEdge)"/>
<ellipse cx="420" cy="129.1" rx="16.9" ry="15.5" fill="#c8c8d0" opacity="0.8"/>
<ellipse cx="420" cy="128.5" rx="16.5" ry="15.1" fill="#5a6270"/>
<ellipse cx="420" cy="127.9" rx="16.4" ry="15" fill="url(#gBlueV)"/>
<ellipse cx="420" cy="127.9" rx="16.4" ry="15" fill="url(#gBlueEdge)"/>
<ellipse cx="459.8" cy="129.6" rx="17.4" ry="15.0" fill="#c8c8d0" opacity="0.8"/>
<ellipse cx="459.8" cy="129.0" rx="17.0" ry="14.6" fill="#5a6270"/>
<ellipse cx="459.8" cy="128.4" rx="16.9" ry="14.5" fill="url(#gBlueV)"/>
<ellipse cx="459.8" cy="128.4" rx="16.9" ry="14.5" fill="url(#gBlueEdge)"/>
<ellipse cx="498.2" cy="129.39999999999998" rx="18.0" ry="15.9" fill="#dcdce4" opacity="0.7"/>
<ellipse cx="498.4" cy="129.0" rx="17.599999999999998" ry="15.5" fill="#8f9cac"/>
<ellipse cx="498.2" cy="128.2" rx="17.4" ry="15.3" fill="#eef6fb" stroke="#b4c0cc" stroke-width="0.5"/>
<ellipse cx="498.2" cy="127.39999999999999" rx="17.099999999999998" ry="14.700000000000001" fill="url(#gLight)"/>
<ellipse cx="498.2" cy="127.39999999999999" rx="17.099999999999998" ry="14.700000000000001" fill="url(#gLightEdge)"/>
<ellipse cx="538" cy="128.0" rx="18.1" ry="15.6" fill="#dcdce4" opacity="0.7"/>
<ellipse cx="538.2" cy="127.6" rx="17.7" ry="15.2" fill="#8f9cac"/>
<ellipse cx="538" cy="126.8" rx="17.5" ry="15" fill="#eef6fb" stroke="#b4c0cc" stroke-width="0.5"/>
<ellipse cx="538" cy="126.0" rx="17.2" ry="14.4" fill="url(#gLight)"/>
<ellipse cx="538" cy="126.0" rx="17.2" ry="14.4" fill="url(#gLightEdge)"/>
<ellipse cx="577.6" cy="128.29999999999998" rx="18.400000000000002" ry="15.9" fill="#dcdce4" opacity="0.7"/>
<ellipse cx="577.8000000000001" cy="127.89999999999999" rx="18.0" ry="15.5" fill="#8f9cac"/>
<ellipse cx="577.6" cy="127.1" rx="17.8" ry="15.3" fill="#eef6fb" stroke="#b4c0cc" stroke-width="0.5"/>
<ellipse cx="577.6" cy="126.3" rx="17.5" ry="14.700000000000001" fill="url(#gLight)"/>
<ellipse cx="577.6" cy="126.3" rx="17.5" ry="14.700000000000001" fill="url(#gLightEdge)"/>
<ellipse cx="615.5" cy="129.0" rx="18.400000000000002" ry="15.7" fill="#dcdce4" opacity="0.7"/>
<ellipse cx="615.7" cy="128.6" rx="18.0" ry="15.299999999999999" fill="#8f9cac"/>
<ellipse cx="615.5" cy="127.8" rx="17.8" ry="15.1" fill="#eef6fb" stroke="#b4c0cc" stroke-width="0.5"/>
<ellipse cx="615.5" cy="127.0" rx="17.5" ry="14.5" fill="url(#gLight)"/>
<ellipse cx="615.5" cy="127.0" rx="17.5" ry="14.5" fill="url(#gLightEdge)"/>
<ellipse cx="652.9" cy="129.29999999999998" rx="18.6" ry="15.4" fill="#dcdce4" opacity="0.7"/>
<ellipse cx="653.1" cy="128.9" rx="18.2" ry="15.0" fill="#8f9cac"/>
<ellipse cx="652.9" cy="128.1" rx="18" ry="14.8" fill="#eef6fb" stroke="#b4c0cc" stroke-width="0.5"/>
<ellipse cx="652.9" cy="127.3" rx="17.7" ry="14.200000000000001" fill="url(#gLight)"/>
<ellipse cx="652.9" cy="127.3" rx="17.7" ry="14.200000000000001" fill="url(#gLightEdge)"/>
<ellipse cx="419.4" cy="163.39999999999998" rx="16.6" ry="15.5" fill="#c8c8d0" opacity="0.8"/>
<ellipse cx="419.4" cy="162.79999999999998" rx="16.200000000000003" ry="15.1" fill="#5a6270"/>
<ellipse cx="419.4" cy="162.2" rx="16.1" ry="15" fill="url(#gBlueV)"/>
<ellipse cx="419.4" cy="162.2" rx="16.1" ry="15" fill="url(#gBlueEdge)"/>
<ellipse cx="458.4" cy="162.29999999999998" rx="17.3" ry="15.1" fill="#c8c8d0" opacity="0.8"/>
<ellipse cx="458.4" cy="161.7" rx="16.900000000000002" ry="14.7" fill="#5a6270"/>
<ellipse cx="458.4" cy="161.1" rx="16.8" ry="14.6" fill="url(#gBlueV)"/>
<ellipse cx="458.4" cy="161.1" rx="16.8" ry="14.6" fill="url(#gBlueEdge)"/>
<ellipse cx="498.2" cy="162.29999999999998" rx="17.5" ry="15.1" fill="#c8c8d0" opacity="0.8"/>
<ellipse cx="498.2" cy="161.7" rx="17.1" ry="14.7" fill="#5a6270"/>
<ellipse cx="498.2" cy="161.1" rx="17" ry="14.6" fill="url(#gBlueV)"/>
<ellipse cx="498.2" cy="161.1" rx="17" ry="14.6" fill="url(#gBlueEdge)"/>
<ellipse cx="536.3" cy="161.4" rx="17.3" ry="15" fill="#dd4e0f"/>
<text x="535.95" y="163.54999999999998" text-anchor="middle" textLength="16.5" lengthAdjust="spacingAndGlyphs" font-family='"Liberation Sans", sans-serif' font-weight="bold" font-size="9.7" fill="#000" stroke="#000" stroke-width="0.3">SYN</text>
<ellipse cx="576.4" cy="161.2" rx="18.1" ry="15.9" fill="#dcdce4" opacity="0.7"/>
<ellipse cx="576.6" cy="160.8" rx="17.7" ry="15.5" fill="#8f9cac"/>
<ellipse cx="576.4" cy="160" rx="17.5" ry="15.3" fill="#eef6fb" stroke="#b4c0cc" stroke-width="0.5"/>
<ellipse cx="576.4" cy="159.2" rx="17.2" ry="14.700000000000001" fill="url(#gLight)"/>
<ellipse cx="576.4" cy="159.2" rx="17.2" ry="14.700000000000001" fill="url(#gLightEdge)"/>
<ellipse cx="616.6" cy="162.2" rx="18.1" ry="16.3" fill="#dcdce4" opacity="0.7"/>
<ellipse cx="616.8000000000001" cy="161.8" rx="17.7" ry="15.899999999999999" fill="#8f9cac"/>
<ellipse cx="616.6" cy="161" rx="17.5" ry="15.7" fill="#eef6fb" stroke="#b4c0cc" stroke-width="0.5"/>
<ellipse cx="616.6" cy="160.2" rx="17.2" ry="15.1" fill="url(#gLight)"/>
<ellipse cx="616.6" cy="160.2" rx="17.2" ry="15.1" fill="url(#gLightEdge)"/>
<ellipse cx="653.8" cy="162.2" rx="18.1" ry="16.3" fill="#dcdce4" opacity="0.7"/>
<ellipse cx="654.0" cy="161.8" rx="17.7" ry="15.899999999999999" fill="#8f9cac"/>
<ellipse cx="653.8" cy="161" rx="17.5" ry="15.7" fill="#eef6fb" stroke="#b4c0cc" stroke-width="0.5"/>
<ellipse cx="653.8" cy="160.2" rx="17.2" ry="15.1" fill="url(#gLight)"/>
<ellipse cx="653.8" cy="160.2" rx="17.2" ry="15.1" fill="url(#gLightEdge)"/>
<ellipse cx="419.3" cy="196.5" rx="15.2" ry="15.100000000000001" fill="#e4e4ec"/>
<ellipse cx="419.2" cy="196.39999999999998" rx="14.3" ry="12.7" fill="#c8c8d0" opacity="0.8"/>
<ellipse cx="419.2" cy="195.79999999999998" rx="13.9" ry="12.299999999999999" fill="#5a6270"/>
<ellipse cx="419.2" cy="195.2" rx="13.8" ry="12.2" fill="url(#gBlueV)"/>
<ellipse cx="419.2" cy="195.2" rx="13.8" ry="12.2" fill="url(#gBlueEdge)"/>
<ellipse cx="419.3" cy="196.5" rx="15.899999999999999" ry="15.8" fill="none" stroke="#f8d000" stroke-width="4.6"/>
<ellipse cx="459.4" cy="196.1" rx="16.2" ry="15.0" fill="#c8c8d0" opacity="0.8"/>
<ellipse cx="459.4" cy="195.5" rx="15.799999999999999" ry="14.6" fill="#5a6270"/>
<ellipse cx="459.4" cy="194.9" rx="15.7" ry="14.5" fill="url(#gBlueV)"/>
<ellipse cx="459.4" cy="194.9" rx="15.7" ry="14.5" fill="url(#gBlueEdge)"/>
<ellipse cx="498.2" cy="195.29999999999998" rx="17.5" ry="15.4" fill="#c8c8d0" opacity="0.8"/>
<ellipse cx="498.2" cy="194.7" rx="17.1" ry="15.0" fill="#5a6270"/>
<ellipse cx="498.2" cy="194.1" rx="17" ry="14.9" fill="url(#gBlueV)"/>
<ellipse cx="498.2" cy="194.1" rx="17" ry="14.9" fill="url(#gBlueEdge)"/>
<ellipse cx="537.7" cy="195.2" rx="17.3" ry="15.3" fill="#c8c8d0" opacity="0.8"/>
<ellipse cx="537.7" cy="194.6" rx="16.900000000000002" ry="14.9" fill="#5a6270"/>
<ellipse cx="537.7" cy="194" rx="16.8" ry="14.8" fill="url(#gBlueV)"/>
<ellipse cx="537.7" cy="194" rx="16.8" ry="14.8" fill="url(#gBlueEdge)"/>
<ellipse cx="578.1" cy="196.39999999999998" rx="18.9" ry="16.9" fill="#c8c8d0" opacity="0.8"/>
<ellipse cx="578.1" cy="195.79999999999998" rx="18.5" ry="16.5" fill="#5a6270"/>
<ellipse cx="578.1" cy="195.2" rx="18.4" ry="16.4" fill="url(#gBlueV)"/>
<ellipse cx="578.1" cy="195.2" rx="18.4" ry="16.4" fill="url(#gBlueEdge)"/>
<ellipse cx="617" cy="196.2" rx="18.400000000000002" ry="15.9" fill="#dcdce4" opacity="0.7"/>
<ellipse cx="617.2" cy="195.8" rx="18.0" ry="15.5" fill="#8f9cac"/>
<ellipse cx="617" cy="195" rx="17.8" ry="15.3" fill="#eef6fb" stroke="#b4c0cc" stroke-width="0.5"/>
<ellipse cx="617" cy="194.2" rx="17.5" ry="14.700000000000001" fill="url(#gLight)"/>
<ellipse cx="617" cy="194.2" rx="17.5" ry="14.700000000000001" fill="url(#gLightEdge)"/>
<text x="617.25" y="199.29999999999998" text-anchor="middle" textLength="16.7" lengthAdjust="spacingAndGlyphs" font-family='"Liberation Sans", sans-serif' font-weight="bold" font-size="9.7" fill="#000" stroke="#000" stroke-width="0.3">MIC</text>
<ellipse cx="655" cy="195.79999999999998" rx="18.6" ry="16.0" fill="#dcdce4" opacity="0.7"/>
<ellipse cx="655.2" cy="195.4" rx="18.2" ry="15.6" fill="#8f9cac"/>
<ellipse cx="655" cy="194.6" rx="18" ry="15.4" fill="#eef6fb" stroke="#b4c0cc" stroke-width="0.5"/>
<ellipse cx="655" cy="193.79999999999998" rx="17.7" ry="14.8" fill="url(#gLight)"/>
<ellipse cx="655" cy="193.79999999999998" rx="17.7" ry="14.8" fill="url(#gLightEdge)"/>
<text transform="translate(27.55,38.35) rotate(0.1) scale(1.0,1)" text-anchor="middle" font-family='"Liberation Sans", sans-serif' font-weight="bold" font-size="9.6" fill="#000" stroke="#000" stroke-width="0.2">1250</text>
<text transform="translate(27.2,68.85) rotate(0.1) scale(1.0,1)" text-anchor="middle" font-family='"Liberation Sans", sans-serif' font-weight="bold" font-size="9.6" fill="#000" stroke="#000" stroke-width="0.2">625</text>
<text transform="translate(28,101.0) rotate(0.1) scale(1.0,1)" text-anchor="middle" font-family='"Liberation Sans", sans-serif' font-weight="bold" font-size="9.6" fill="#000" stroke="#000" stroke-width="0.2">312.5</text>
<text transform="translate(27.85,134.2) rotate(0.1) scale(1.0,1)" text-anchor="middle" font-family='"Liberation Sans", sans-serif' font-weight="bold" font-size="9.6" fill="#000" stroke="#000" stroke-width="0.2">156.2</text>
<text transform="translate(28.45,168.35) rotate(0.1) scale(1.0,1)" text-anchor="middle" font-family='"Liberation Sans", sans-serif' font-weight="bold" font-size="9.6" fill="#000" stroke="#000" stroke-width="0.2">78.1</text>
<text transform="translate(32.3,203.75) rotate(0.1) scale(1.0,1)" text-anchor="middle" font-family='"Liberation Sans", sans-serif' font-weight="bold" font-size="9.6" fill="#000" stroke="#000" stroke-width="0.2">0</text>
<text transform="translate(69.3,238.0) rotate(0.1) scale(1.0,1)" text-anchor="middle" font-family='"Liberation Sans", sans-serif' font-weight="bold" font-size="9.6" fill="#000" stroke="#000" stroke-width="0.2">0</text>
<text transform="translate(110.9,236.5) rotate(0.1) scale(1.0,1)" text-anchor="middle" font-family='"Liberation Sans", sans-serif' font-weight="bold" font-size="9.6" fill="#000" stroke="#000" stroke-width="0.2">1.5</text>
<text transform="translate(150.65,236.1) rotate(0.1) scale(1.0,1)" text-anchor="middle" font-family='"Liberation Sans", sans-serif' font-weight="bold" font-size="9.6" fill="#000" stroke="#000" stroke-width="0.2">3.1</text>
<text transform="translate(187.25,235.9) rotate(0.1) scale(1.0,1)" text-anchor="middle" font-family='"Liberation Sans", sans-serif' font-weight="bold" font-size="9.6" fill="#000" stroke="#000" stroke-width="0.2">6.2</text>
<text transform="translate(230.9,235.5) rotate(0.1) scale(1.0,1)" text-anchor="middle" font-family='"Liberation Sans", sans-serif' font-weight="bold" font-size="9.6" fill="#000" stroke="#000" stroke-width="0.2">12.5</text>
<text transform="translate(269.8,235.5) rotate(0.1) scale(1.0,1)" text-anchor="middle" font-family='"Liberation Sans", sans-serif' font-weight="bold" font-size="9.6" fill="#000" stroke="#000" stroke-width="0.2">25</text>
<text transform="translate(304.35,235.7) rotate(0.1) scale(1.0,1)" text-anchor="middle" font-family='"Liberation Sans", sans-serif' font-weight="bold" font-size="9.6" fill="#000" stroke="#000" stroke-width="0.2">50</text>
<text x="205.6" y="252.2" text-anchor="middle" font-family='"Liberation Serif", serif' font-weight="bold" font-size="10" fill="#000" >PNP mg/mL</text>
<text transform="translate(10,105.5) rotate(-89.9)" text-anchor="middle" font-family='"Liberation Sans", sans-serif' font-weight="bold" font-size="9.1" fill="#000" stroke="#000" stroke-width="0.15">PhotoActive+ µg/mL</text>
<text transform="translate(376.2,35.9) rotate(0.1) scale(1.0,1)" text-anchor="middle" font-family='"Liberation Sans", sans-serif' font-weight="bold" font-size="9.6" fill="#000" stroke="#000" stroke-width="0.2">25</text>
<text transform="translate(378.75,63.65) rotate(0.1) scale(1.0,1)" text-anchor="middle" font-family='"Liberation Sans", sans-serif' font-weight="bold" font-size="9.6" fill="#000" stroke="#000" stroke-width="0.2">12.5</text>
<text transform="translate(380.3,99.55) rotate(0.1) scale(1.0,1)" text-anchor="middle" font-family='"Liberation Sans", sans-serif' font-weight="bold" font-size="9.6" fill="#000" stroke="#000" stroke-width="0.2">6.25</text>
<text transform="translate(381.85,128.4) rotate(0.1) scale(1.0,1)" text-anchor="middle" font-family='"Liberation Sans", sans-serif' font-weight="bold" font-size="9.6" fill="#000" stroke="#000" stroke-width="0.2">3.1</text>
<text transform="translate(380.3,164.0) rotate(0.1) scale(1.0,1)" text-anchor="middle" font-family='"Liberation Sans", sans-serif' font-weight="bold" font-size="9.6" fill="#000" stroke="#000" stroke-width="0.2">1.5</text>
<text transform="translate(381.55,201.9) rotate(0.1) scale(1.0,1)" text-anchor="middle" font-family='"Liberation Sans", sans-serif' font-weight="bold" font-size="9.6" fill="#000" stroke="#000" stroke-width="0.2">0</text>
<text transform="translate(418.5,233.7) rotate(0.1) scale(1.0,1)" text-anchor="middle" font-family='"Liberation Sans", sans-serif' font-weight="bold" font-size="9.6" fill="#000" stroke="#000" stroke-width="0.2">0</text>
<text transform="translate(462.7,233.5) rotate(0.1) scale(1.0,1)" text-anchor="middle" font-family='"Liberation Sans", sans-serif' font-weight="bold" font-size="9.6" fill="#000" stroke="#000" stroke-width="0.2">1.5</text>
<text transform="translate(502.5,233.6) rotate(0.1) scale(1.0,1)" text-anchor="middle" font-family='"Liberation Sans", sans-serif' font-weight="bold" font-size="9.6" fill="#000" stroke="#000" stroke-width="0.2">3.1</text>
<text transform="translate(540.9,234.1) rotate(0.1) scale(1.0,1)" text-anchor="middle" font-family='"Liberation Sans", sans-serif' font-weight="bold" font-size="9.6" fill="#000" stroke="#000" stroke-width="0.2">6.2</text>
<text transform="translate(582.9,234.0) rotate(0.1) scale(1.0,1)" text-anchor="middle" font-family='"Liberation Sans", sans-serif' font-weight="bold" font-size="9.6" fill="#000" stroke="#000" stroke-width="0.2">12.5</text>
<text transform="translate(619.6,234.0) rotate(0.1) scale(1.0,1)" text-anchor="middle" font-family='"Liberation Sans", sans-serif' font-weight="bold" font-size="9.6" fill="#000" stroke="#000" stroke-width="0.2">25</text>
<text transform="translate(659.7,234.0) rotate(0.1) scale(1.0,1)" text-anchor="middle" font-family='"Liberation Sans", sans-serif' font-weight="bold" font-size="9.6" fill="#000" stroke="#000" stroke-width="0.2">50</text>
<text x="558.8" y="252.6" text-anchor="middle" font-family='"Liberation Serif", serif' font-weight="bold" font-size="10" fill="#000" >PNP mg/mL</text>
<text transform="translate(365,112) rotate(-89.9)" text-anchor="middle" font-family='"Liberation Serif", serif' font-weight="bold" font-size="10.8" fill="#000" stroke="#000" stroke-width="0.3">TBO µg/mL</text>
<rect x="266.5" y="251.5" width="171" height="70" fill="#f3f3f3" stroke="#5e5e5e" stroke-width="1.3"/>
<circle cx="301.4" cy="278" r="10.3" fill="#17325f" stroke="#f5c000" stroke-width="4"/>
<ellipse cx="342.6" cy="276.8" rx="10.9" ry="10.4" fill="#b8b8c0" opacity="0.7"/>
<ellipse cx="342.6" cy="275.8" rx="10.7" ry="10.2" fill="url(#gLgBlue)"/>
<ellipse cx="381.5" cy="274.9" rx="10.6" ry="10.1" fill="#a8b4c0"/>
<ellipse cx="381.7" cy="274.3" rx="10.5" ry="10" fill="#f2f8fc"/>
<ellipse cx="381.7" cy="273.8" rx="10.2" ry="9.5" fill="url(#gLgLight)"/>
<ellipse cx="418.8" cy="274.6" rx="11.2" ry="10.3" fill="#e04e0c"/>
<text transform="translate(278.6,316.8) rotate(-32)" textLength="53" lengthAdjust="spacingAndGlyphs" font-family='"Liberation Sans", sans-serif' font-weight="bold" font-size="9" fill="#111" stroke="#111" stroke-width="0.2">Growth control</text>
<text transform="translate(335,308.3) rotate(-30)" textLength="26" lengthAdjust="spacingAndGlyphs" font-family='"Liberation Sans", sans-serif' font-weight="bold" font-size="9" fill="#111" stroke="#111" stroke-width="0.2">Growth</text>
<text transform="translate(362,311.5) rotate(-29)" textLength="37.5" lengthAdjust="spacingAndGlyphs" font-family='"Liberation Sans", sans-serif' font-weight="bold" font-size="9" fill="#111" stroke="#111" stroke-width="0.2">No growth</text>
<text transform="translate(402.1,306.9) rotate(-27)" textLength="25.5" lengthAdjust="spacingAndGlyphs" font-family='"Liberation Sans", sans-serif' font-weight="bold" font-size="9" fill="#111" stroke="#111" stroke-width="0.2">Synergy</text>
<line x1="89.6" y1="335.3" x2="89.6" y2="582.3" stroke="#333" stroke-width="1"/>
<line x1="89.6" y1="582.3" x2="624.2" y2="582.3" stroke="#333" stroke-width="1"/>
<line x1="86.6" y1="582.3" x2="89.6" y2="582.3" stroke="#333" stroke-width="1"/>
<text x="81" y="585.9" text-anchor="end" font-family='"Liberation Serif", serif' font-weight="bold" font-size="11" fill="#111" >0</text>
<line x1="86.6" y1="541.14" x2="89.6" y2="541.14" stroke="#333" stroke-width="1"/>
<text x="81" y="544.74" text-anchor="end" font-family='"Liberation Serif", serif' font-weight="bold" font-size="11" fill="#111" >2</text>
<line x1="86.6" y1="499.97999999999996" x2="89.6" y2="499.97999999999996" stroke="#333" stroke-width="1"/>
<text x="81" y="503.58" text-anchor="end" font-family='"Liberation Serif", serif' font-weight="bold" font-size="11" fill="#111" >4</text>
<line x1="86.6" y1="458.81999999999994" x2="89.6" y2="458.81999999999994" stroke="#333" stroke-width="1"/>
<text x="81" y="462.41999999999996" text-anchor="end" font-family='"Liberation Serif", serif' font-weight="bold" font-size="11" fill="#111" >6</text>
<line x1="86.6" y1="417.65999999999997" x2="89.6" y2="417.65999999999997" stroke="#333" stroke-width="1"/>
<text x="81" y="421.26" text-anchor="end" font-family='"Liberation Serif", serif' font-weight="bold" font-size="11" fill="#111" >8</text>
<line x1="86.6" y1="376.5" x2="89.6" y2="376.5" stroke="#333" stroke-width="1"/>
<text x="81" y="380.1" text-anchor="end" font-family='"Liberation Serif", serif' font-weight="bold" font-size="11" fill="#111" >10</text>
<line x1="86.6" y1="335.34" x2="89.6" y2="335.34" stroke="#333" stroke-width="1"/>
<text x="81" y="338.94" text-anchor="end" font-family='"Liberation Serif", serif' font-weight="bold" font-size="11" fill="#111" >12</text>
<line x1="89.6" y1="582.3" x2="89.6" y2="585.8" stroke="#333" stroke-width="1"/>
<line x1="223.25" y1="582.3" x2="223.25" y2="585.8" stroke="#333" stroke-width="1"/>
<text x="223.25" y="599" text-anchor="middle" font-family='"Liberation Serif", serif' font-weight="bold" font-size="11" fill="#111" >4</text>
<line x1="356.9" y1="582.3" x2="356.9" y2="585.8" stroke="#333" stroke-width="1"/>
<text x="356.9" y="599" text-anchor="middle" font-family='"Liberation Serif", serif' font-weight="bold" font-size="11" fill="#111" >8</text>
<line x1="490.55000000000007" y1="582.3" x2="490.55000000000007" y2="585.8" stroke="#333" stroke-width="1"/>
<text x="490.55000000000007" y="599" text-anchor="middle" font-family='"Liberation Serif", serif' font-weight="bold" font-size="11" fill="#111" >12</text>
<line x1="624.2" y1="582.3" x2="624.2" y2="585.8" stroke="#333" stroke-width="1"/>
<text x="624.2" y="599" text-anchor="middle" font-family='"Liberation Serif", serif' font-weight="bold" font-size="11" fill="#111" >24</text>
<text x="356.6" y="616.6" text-anchor="middle" font-family='"Liberation Serif", serif' font-weight="bold" font-size="13" fill="#111" >Time (hours)</text>
<text transform="translate(64.3,459.5) rotate(-89.9)" text-anchor="middle" font-family='"Liberation Serif", serif' font-weight="bold" font-size="13.2" fill="#000">Log 10 CFU/mL</text>
<line x1="223.25" y1="491.9" x2="223.25" y2="521.5" stroke="#222" stroke-width="1.2"/>
<line x1="221.25" y1="491.9" x2="225.25" y2="491.9" stroke="#222" stroke-width="1"/>
<line x1="356.9" y1="502.5" x2="356.9" y2="540.3" stroke="#555" stroke-width="1.2"/>
<line x1="354.9" y1="502.5" x2="358.9" y2="502.5" stroke="#555" stroke-width="1"/>
<line x1="490.55000000000007" y1="528.8" x2="490.55000000000007" y2="563.9" stroke="#222" stroke-width="1.2"/>
<line x1="488.55000000000007" y1="528.8" x2="492.55000000000007" y2="528.8" stroke="#222" stroke-width="1"/>
<line x1="624.2" y1="536.5" x2="624.2" y2="571.8" stroke="#222" stroke-width="1.2"/>
<line x1="621.7" y1="536.5" x2="624.2" y2="536.5" stroke="#222" stroke-width="1"/>
<line x1="622.2" y1="540.5" x2="624.2" y2="540.5" stroke="#222" stroke-width="0.8"/>
<line x1="354.9" y1="511.3" x2="358.9" y2="511.3" stroke="#222" stroke-width="1.2"/>
<line x1="488.55000000000007" y1="534.3" x2="492.55000000000007" y2="534.3" stroke="#222" stroke-width="1.2"/>
<line x1="221.25" y1="392.34659999999997" x2="225.25" y2="392.34659999999997" stroke="#333" stroke-width="0.8"/>
<line x1="223.25" y1="392.34659999999997" x2="223.25" y2="394.6104" stroke="#333" stroke-width="0.8"/>
<line x1="354.9" y1="390.90599999999995" x2="358.9" y2="390.90599999999995" stroke="#333" stroke-width="0.8"/>
<line x1="356.9" y1="390.90599999999995" x2="356.9" y2="394.6104" stroke="#333" stroke-width="0.8"/>
<line x1="488.55000000000007" y1="390.90599999999995" x2="492.55000000000007" y2="390.90599999999995" stroke="#333" stroke-width="0.8"/>
<line x1="490.55000000000007" y1="390.90599999999995" x2="490.55000000000007" y2="394.6104" stroke="#333" stroke-width="0.8"/>
<line x1="622.2" y1="386.78999999999996" x2="624.2" y2="386.78999999999996" stroke="#333" stroke-width="0.8"/>
<line x1="624.2" y1="386.78999999999996" x2="624.2" y2="394.6104" stroke="#333" stroke-width="0.8"/>
<line x1="221.05" y1="414.6" x2="225.45" y2="414.6" stroke="#555" stroke-width="0.9"/>
<line x1="223.25" y1="414.6" x2="223.25" y2="411.6" stroke="#555" stroke-width="0.9"/>
<line x1="488.3500000000001" y1="416.8" x2="492.75000000000006" y2="416.8" stroke="#555" stroke-width="0.9"/>
<line x1="490.55000000000007" y1="416.8" x2="490.55000000000007" y2="413.8" stroke="#555" stroke-width="0.9"/>
<line x1="622.0" y1="418.4" x2="626.4000000000001" y2="418.4" stroke="#555" stroke-width="0.9"/>
<line x1="624.2" y1="418.4" x2="624.2" y2="415.4" stroke="#555" stroke-width="0.9"/>
<polyline points="89.6,407.4 223.2,408.6 356.9,409.8 490.6,410.5 624.2,411.1" fill="none" stroke="#a8a8a8" stroke-width="1.9"/>
<polyline points="89.6,407.4 223.2,409.0 356.9,410.3 490.6,411.1 624.2,409.2" fill="none" stroke="#cc2a9c" stroke-width="1.9"/>
<polyline points="89.6,407.4 223.2,409.4 356.9,410.9 490.6,411.5 624.2,410.0" fill="none" stroke="#f2c200" stroke-width="1.9"/>
<polyline points="89.6,407.4 223.2,410.9 356.9,412.5 490.6,412.9 624.2,413.7" fill="none" stroke="#a8381c" stroke-width="1.9"/>
<polyline points="89.6,407.4 223.2,408.0 356.9,409.2 490.6,409.8 624.2,412.1" fill="none" stroke="#555555" stroke-width="1.9"/>
<polyline points="89.6,407.4 223.2,407.8 356.9,408.6 490.6,409.0 624.2,412.9" fill="none" stroke="#1f4e9c" stroke-width="1.9"/>
<polyline points="89.6,407.4 223.2,413.1 356.9,414.2 490.6,415.2 624.2,416.4" fill="none" stroke="#3a7ad6" stroke-width="1.9"/>
<polyline points="89.6,407.4 223.2,395.0 356.9,393.8 490.6,392.6 624.2,389.5" fill="none" stroke="#000000" stroke-width="2.1"/>
<polyline points="89.6,407.4 223.2,520.1 356.9,530.6 490.6,557.4 624.2,565.4" fill="none" stroke="#6cbf2e" stroke-width="2.3" stroke-dasharray="5.2 2.7"/>
<polyline points="89.6,407.4 223.2,522.2 356.9,540.3 490.6,564.0 624.2,571.4" fill="none" stroke="#ee0a0a" stroke-width="2.3" stroke-dasharray="5.2 2.7"/>
<line x1="97.7" y1="639.9" x2="122.4" y2="639.9" stroke="#000000" stroke-width="2.2"/>
<text x="124.8" y="643.8" text-anchor="start" font-family='"Liberation Serif", serif' font-weight="normal" font-size="11.2" fill="#000" >Control</text>
<line x1="97.7" y1="657.8" x2="122.4" y2="657.8" stroke="#b0b0b0" stroke-width="2.2"/>
<text x="124.8" y="661.6999999999999" text-anchor="start" font-family='"Liberation Serif", serif' font-weight="normal" font-size="11.2" fill="#000" >PhotoActive+ (156.2 µg/mL)+PNP(3.1 mg/mL)</text>
<line x1="97.7" y1="676" x2="122.4" y2="676" stroke="#3a7ad6" stroke-width="2.2"/>
<text x="124.8" y="679.9" text-anchor="start" font-family='"Liberation Serif", serif' font-weight="normal" font-size="11.2" fill="#000" >PhotoActive+ (78.1 µg/mL)+PNP(6.2 mg/mL)</text>
<line x1="97.7" y1="694" x2="122.4" y2="694" stroke="#1f4e9c" stroke-width="2.2"/>
<text x="124.8" y="697.9" text-anchor="start" font-family='"Liberation Serif", serif' font-weight="normal" font-size="11.2" fill="#000" >TBO (6.25 µg/mL)</text>
<line x1="97.7" y1="712" x2="122.4" y2="712" stroke="#555555" stroke-width="2.2"/>
<text x="124.8" y="715.9" text-anchor="start" font-family='"Liberation Serif", serif' font-weight="normal" font-size="11.2" fill="#000" >TBO (1.5 µg/mL)+PNP(1.5 mg/mL)</text>
<line x1="343" y1="639.9" x2="367.2" y2="639.9" stroke="#cc2a9c" stroke-width="2.2"/>
<text x="370.1" y="643.8" text-anchor="start" font-family='"Liberation Serif", serif' font-weight="normal" font-size="11.2" fill="#000" >PhotoActive+ (312.5 µg/mL)</text>
<line x1="343" y1="657.8" x2="367.2" y2="657.8" stroke="#f2c200" stroke-width="2.2"/>
<text x="370.1" y="661.6999999999999" text-anchor="start" font-family='"Liberation Serif", serif' font-weight="normal" font-size="11.2" fill="#000" >PhotoActive+ (156.2 µg/mL)+PNP(1.5 mg/mL)</text>
<line x1="343" y1="676" x2="367.2" y2="676" stroke="#6cbf2e" stroke-width="2.2" stroke-dasharray="5.5 3.3"/>
<text x="370.1" y="679.9" text-anchor="start" font-family='"Liberation Serif", serif' font-weight="normal" font-size="11.2" fill="#000" >PhotoActive+ (156.2 µg/mL)+PNP(6.2 mg/mL)</text>
<line x1="343" y1="694" x2="367.2" y2="694" stroke="#a8381c" stroke-width="2.2"/>
<text x="370.1" y="697.9" text-anchor="start" font-family='"Liberation Serif", serif' font-weight="normal" font-size="11.2" fill="#000" >TBO (1.5 µg/mL)+PNP(3.1 mg/mL)</text>
<line x1="343" y1="712" x2="367.2" y2="712" stroke="#ee0a0a" stroke-width="2.2" stroke-dasharray="5.5 3.3"/>
<text x="370.1" y="715.9" text-anchor="start" font-family='"Liberation Serif", serif' font-weight="normal" font-size="11.2" fill="#000" >TBO (1.5 µg/mL)+PNP(6.2 mg/mL)</text>
</svg>
</body></html>
